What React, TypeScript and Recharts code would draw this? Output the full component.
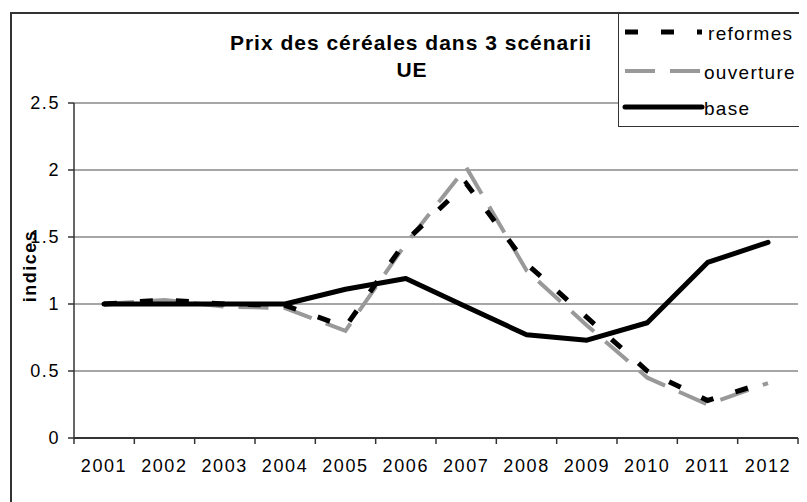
import { LineChart, Line, XAxis, YAxis, CartesianGrid, Legend } from 'recharts';

const years = ['2001', '2002', '2003', '2004', '2005', '2006', '2007', '2008', '2009', '2010', '2011', '2012'];
const reformes = [1.0, 1.03, 1.0, 0.99, 0.83, 1.47, 1.9, 1.3, 0.9, 0.5, 0.28, 0.42];
const ouverture = [1.0, 1.03, 0.98, 0.97, 0.8, 1.45, 2.02, 1.25, 0.84, 0.45, 0.25, 0.41];
const base = [1.0, 1.0, 1.0, 1.0, 1.11, 1.19, 0.98, 0.77, 0.73, 0.86, 1.31, 1.46];
const yTicks = [0, 0.5, 1, 1.5, 2, 2.5];
const boundaryTicks = [0.5, 1.5, 2.5, 3.5, 4.5, 5.5, 6.5, 7.5, 8.5, 9.5, 10.5, 11.5, 12.5];

const data = years.map((year, i) => ({
  year,
  idx: i + 1,
  reformes: reformes[i],
  ouverture: ouverture[i],
  base: base[i],
}));

// legend order (drawn order differs: gray under black)
const SERIES = [
  { key: 'reformes', color: '#000000', width: 5, dash: '13 23', cap: 'butt' },
  { key: 'ouverture', color: '#999999', width: 4, dash: '30 15', cap: 'butt' },
  { key: 'base', color: '#000000', width: 5, dash: undefined, cap: 'round' },
];

const FONT = '"Liberation Sans", Arial, sans-serif';
const tickStyle = { fontFamily: FONT, fontSize: 18, fill: '#000', letterSpacing: 1.6 };

const LegendBox = () => (
  <div style={{ width: 181, height: 112, background: '#fff', border: '1px solid #333' }}>
    <svg width={181} height={112}>
      {SERIES.map((s, i) => {
        const y = [18, 57, 93][i];
        return (
          <g key={s.key}>
            <line x1={6} x2={83} y1={y} y2={y} stroke={s.color} strokeWidth={s.width}
              strokeDasharray={s.dash} strokeLinecap={s.cap as any} />
            <text x={s.key === 'reformes' ? 89 : 85} y={y + 8} fontFamily={FONT} fontSize={19}
              letterSpacing={1.3} fill="#000">{s.key}</text>
          </g>
        );
      })}
    </svg>
  </div>
);

export default function App() {
  return (
    <div style={{ position: 'relative', width: 799, height: 494, overflow: 'hidden', background: '#fff' }}>
      {/* chart frame, runs off the right/bottom edge */}
      <div style={{ position: 'absolute', left: 2, top: 4, width: 900, height: 700, border: '2px solid #333' }} />
      <div style={{ position: 'absolute', left: 0, top: 0 }}>
        <LineChart width={799} height={494} data={data} margin={{ top: 95, right: 9, bottom: 18, left: 0 }}>
          <CartesianGrid xAxisId="b_labels" yAxisId="left" vertical={false} stroke="#888" strokeWidth={1.5} />
          {/* tick marks sit between the categories, so they get their own numeric axis */}
          <XAxis xAxisId="a_ticks" dataKey="idx" type="number" domain={[0.5, 12.5]} ticks={boundaryTicks}
            allowDataOverflow tickFormatter={() => ''} tick={{ fontSize: 1 }} tickSize={6} tickMargin={0}
            height={6} axisLine={{ stroke: '#333', strokeWidth: 2 }}
            tickLine={{ stroke: '#333', strokeWidth: 1.5 }} />
          <XAxis xAxisId="b_labels" dataKey="year" padding={{ left: 30, right: 30 }} axisLine={false}
            tickLine={false} tickSize={0} tickMargin={15} height={40} tick={tickStyle} interval={0} />
          <YAxis yAxisId="left" domain={[0, 2.5]} ticks={yTicks} width={66} tickSize={6} tickMargin={8}
            axisLine={{ stroke: '#333', strokeWidth: 1.5 }} tickLine={{ stroke: '#333', strokeWidth: 1.5 }}
            tick={tickStyle} />
          <YAxis yAxisId="right" orientation="right" domain={[0, 2.5]} width={0} tick={false}
            tickLine={false} axisLine={{ stroke: '#999', strokeWidth: 2 }} />
          <Legend layout="vertical" align="center" verticalAlign="middle" content={() => <LegendBox />}
            wrapperStyle={{ left: 610, top: 5, width: 183, height: 114 }} />
          <Line xAxisId="a_ticks" yAxisId="left" dataKey="base" stroke="none" dot={false}
            legendType="none" isAnimationActive={false} />
          <Line xAxisId="b_labels" yAxisId="left" dataKey="ouverture" stroke="#999999" strokeWidth={4}
            strokeDasharray="30 15" dot={false} isAnimationActive={false} />
          <Line xAxisId="b_labels" yAxisId="left" dataKey="reformes" stroke="#000" strokeWidth={5}
            strokeDasharray="13 23" dot={false} isAnimationActive={false} />
          <Line xAxisId="b_labels" yAxisId="left" dataKey="base" stroke="#000" strokeWidth={5}
            strokeLinecap="round" strokeLinejoin="round" dot={false} isAnimationActive={false} />
        </LineChart>
      </div>
      <svg width={799} height={494} style={{ position: 'absolute', left: 0, top: 0, pointerEvents: 'none' }}>
        <text x={403} y={42} textAnchor="middle" fontFamily={FONT} fontWeight="bold" fontSize={21}
          letterSpacing={1}>Prix des céréales dans 3 scénarii</text>
        <text x={404} y={69} textAnchor="middle" fontFamily={FONT} fontWeight="bold" fontSize={21}
          letterSpacing={1}>UE</text>
        <text x={22} y={258} transform="rotate(-90 22 258)" textAnchor="middle" dominantBaseline="central"
          fontFamily={FONT} fontWeight="bold" fontSize={18} letterSpacing={1.5}>indices</text>
      </svg>
    </div>
  );
}
